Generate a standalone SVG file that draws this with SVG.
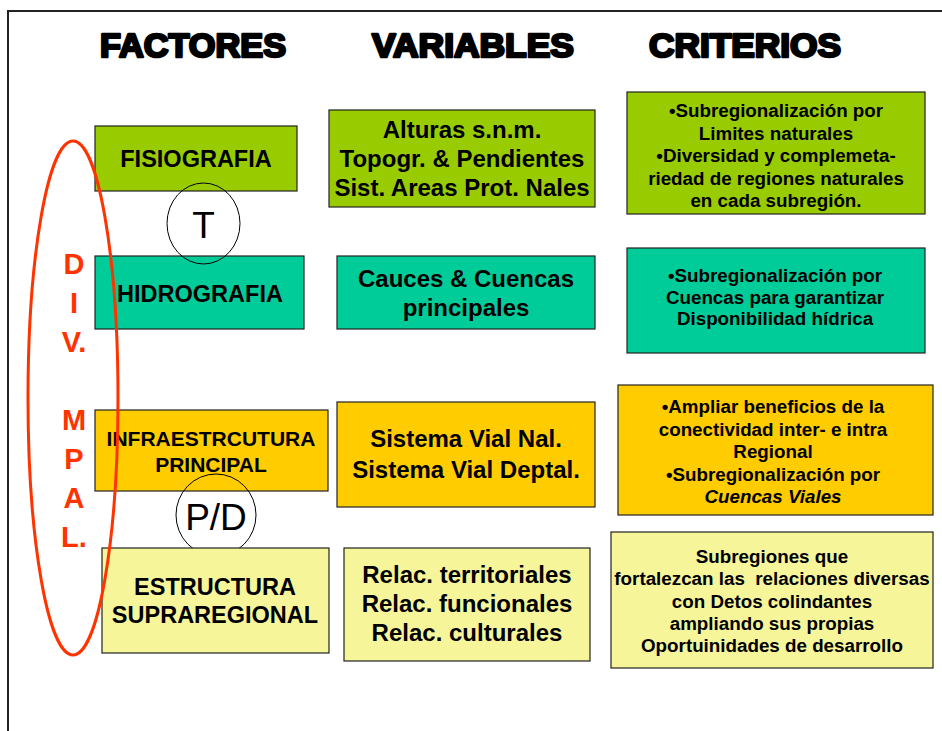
<svg xmlns="http://www.w3.org/2000/svg" width="942" height="731" viewBox="0 0 942 731">
<style>
text{font-family:"Liberation Sans",Arial,sans-serif;font-weight:bold;fill:#000;text-anchor:middle}
.hd{font-size:34px;stroke:#000;stroke-width:2.6px;stroke-linejoin:round}
.box{stroke:#222;stroke-width:1.2}
.g{fill:#99CC00}.t{fill:#00CC99}.y{fill:#FFCC00}.ly{fill:#F6F59A}
.f{font-size:23.5px}.fi{font-size:21px}.v{font-size:24px}.c{font-size:18.8px}
.circ{fill:none;stroke:#000;stroke-width:1}
.ct{font-weight:normal;font-size:37px}
.red{fill:#FF3300;font-size:29px}
</style>
<rect width="942" height="731" fill="#fff"/>
<path d="M8,731 V11 H942" fill="none" stroke="#222" stroke-width="2"/>
<g id="headers">
<text class="hd" x="193" y="57" textLength="186" lengthAdjust="spacingAndGlyphs">FACTORES</text>
<text class="hd" x="473" y="57" textLength="202" lengthAdjust="spacingAndGlyphs">VARIABLES</text>
<text class="hd" x="745" y="57" textLength="192" lengthAdjust="spacingAndGlyphs">CRITERIOS</text>
</g>
<g id="fisiografia"><rect class="box g" x="95" y="126" width="202" height="65"/><text class="f" x="196" y="167">FISIOGRAFIA</text></g>
<g id="var-fisio"><rect class="box g" x="329" y="110" width="266" height="97"/>
<text class="v" x="462" y="138">Alturas s.n.m.</text><text class="v" x="462" y="167">Topogr. &amp; Pendientes</text><text class="v" x="462" y="196">Sist. Areas Prot. Nales</text></g>
<g id="crit-fisio"><rect class="box g" x="627" y="92" width="298" height="122"/>
<text class="c" x="776" y="117">•Subregionalización por</text><text class="c" x="776" y="139.5">Limites naturales</text><text class="c" x="776" y="162">•Diversidad y complemeta-</text><text class="c" x="776" y="184.5">riedad de regiones naturales</text><text class="c" x="776" y="207">en cada subregión.</text></g>
<g id="hidrografia"><rect class="box t" x="95" y="256" width="209" height="73"/><text class="f" x="200" y="302">HIDROGRAFIA</text></g>
<g id="var-hidro"><rect class="box t" x="337" y="256" width="258" height="73"/>
<text class="v" x="466" y="287">Cauces &amp; Cuencas</text><text class="v" x="466" y="316">principales</text></g>
<g id="crit-hidro"><rect class="box t" x="627" y="248" width="298" height="105"/>
<text class="c" x="775" y="282">•Subregionalización por</text><text class="c" x="775" y="303.5">Cuencas para garantizar</text><text class="c" x="775" y="325">Disponibilidad hídrica</text></g>
<g id="t-circle"><ellipse class="circ" cx="203.5" cy="223.5" rx="36.5" ry="40.5"/><text class="ct" x="203.5" y="238">T</text></g>
<g id="infra"><rect class="box y" x="95" y="410" width="233" height="81"/>
<text class="fi" x="211" y="446">INFRAESTRCUTURA</text><text class="fi" x="211" y="472">PRINCIPAL</text></g>
<g id="var-infra"><rect class="box y" x="337" y="402" width="258" height="105"/>
<text class="v" x="466" y="447">Sistema Vial Nal.</text><text class="v" x="466" y="478">Sistema Vial Deptal.</text></g>
<g id="crit-infra"><rect class="box y" x="618" y="385" width="315" height="130"/>
<text class="c" x="773" y="413">•Ampliar beneficios de la</text><text class="c" x="773" y="435.5">conectividad inter- e intra</text><text class="c" x="773" y="458">Regional</text><text class="c" x="773" y="480.5">•Subregionalización por</text><text class="c" x="773" y="503"><tspan font-style="italic">Cuencas Viales</tspan></text></g>
<g id="pd-circle"><ellipse class="circ" cx="216" cy="515" rx="40" ry="41"/><text class="ct" x="216" y="530">P/D</text></g>
<g id="estructura"><rect class="box ly" x="102" y="548" width="227" height="105"/>
<text class="f" x="215" y="595">ESTRUCTURA</text><text class="f" x="215" y="623">SUPRAREGIONAL</text></g>
<g id="var-estr"><rect class="box ly" x="344" y="548" width="246" height="113"/>
<text class="v" x="467" y="583">Relac. territoriales</text><text class="v" x="467" y="612">Relac. funcionales</text><text class="v" x="467" y="641">Relac. culturales</text></g>
<g id="crit-estr"><rect class="box ly" x="611" y="532" width="322" height="136"/>
<text class="c" x="772" y="563">Subregiones que</text><text class="c" x="772" y="585" xml:space="preserve">fortalezcan las  relaciones diversas</text><text class="c" x="772" y="607.5">con Detos colindantes</text><text class="c" x="772" y="630">ampliando sus propias</text><text class="c" x="772" y="652">Oportuinidades de desarrollo</text></g>
<g id="div-mpal">
<ellipse cx="73" cy="398" rx="45" ry="257" fill="none" stroke="#FF3300" stroke-width="3"/>
<text class="red" x="74" y="274">D</text><text class="red" x="74" y="313">I</text><text class="red" x="74" y="352">V.</text>
<text class="red" x="74" y="430">M</text><text class="red" x="74" y="469">P</text><text class="red" x="74" y="508">A</text><text class="red" x="74" y="547">L.</text>
</g>
</svg>
